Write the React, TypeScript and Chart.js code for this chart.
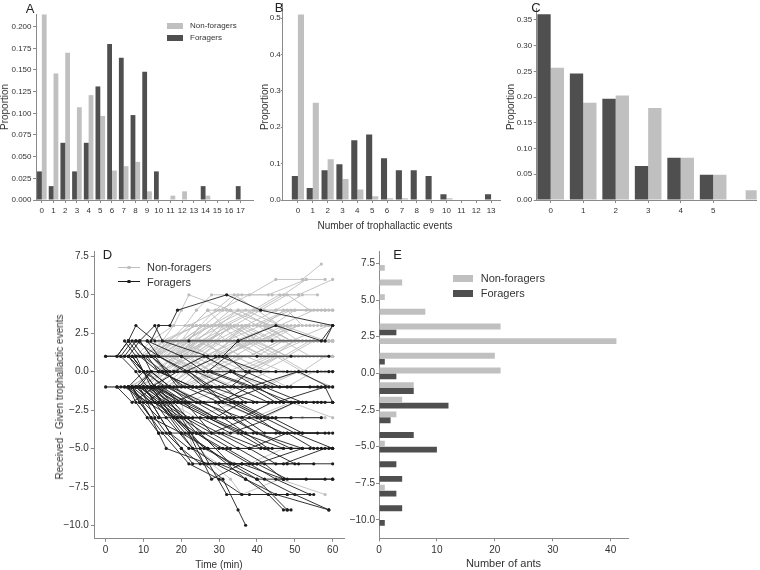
import React, { useEffect, useRef } from 'react';
import { Chart, registerables } from 'chart.js';
Chart.register(...registerables);

const FONT = '"Liberation Sans", Arial, Helvetica, sans-serif';
const LIGHT = '#c0c0c0';
const DARK = '#4f4f4f';
const AXIS = '#8a8a8a';
const TXT = '#333333';
const LINE_GRAY = '#bdbdbd';
const LINE_BLACK = '#1c1c1c';

// ---------- Panel A : given events ----------
const eventsA = [0, 1, 2, 3, 4, 5, 6, 7, 8, 9, 10, 11, 12, 13, 14, 15, 16, 17];
const foragersA = [0.033, 0.016, 0.066, 0.033, 0.066, 0.131, 0.18, 0.164, 0.098, 0.148, 0.033, 0, 0, 0, 0.016, 0, 0, 0.016];
const nonForagersA = [0.214, 0.146, 0.17, 0.107, 0.121, 0.097, 0.034, 0.039, 0.044, 0.01, 0, 0.005, 0.01, 0, 0.005, 0, 0, 0];
const yTicksA = [0, 0.025, 0.05, 0.075, 0.1, 0.125, 0.15, 0.175, 0.2];

// ---------- Panel B : received events ----------
const eventsB = [0, 1, 2, 3, 4, 5, 6, 7, 8, 9, 10, 11, 12, 13];
const foragersB = [0.066, 0.033, 0.082, 0.098, 0.164, 0.18, 0.115, 0.082, 0.082, 0.066, 0.016, 0, 0, 0.016];
const nonForagersB = [0.51, 0.267, 0.112, 0.058, 0.029, 0.01, 0.005, 0.005, 0, 0, 0.005, 0, 0, 0];
const yTicksB = [0, 0.1, 0.2, 0.3, 0.4, 0.5];

// ---------- Panel C ----------
const eventsC = [0, 1, 2, 3, 4, 5, 6];
const xTickLabelsC = [0, 1, 2, 3, 4, 5];
const foragersC = [0.361, 0.246, 0.197, 0.066, 0.082, 0.049, null];
const nonForagersC = [0.257, 0.189, 0.203, 0.179, 0.082, 0.049, 0.019];
const yTicksC = [0, 0.05, 0.1, 0.15, 0.2, 0.25, 0.3, 0.35];

// ---------- Panel D : trajectories [t, v, t, v, ...] ----------
const foragerTrajectories: number[][] = [
  [12, 2, 14, 3, 17, 3, 19, 4, 32, 5, 41, 4, 60, 3],
  [0, 1, 3, 1, 6, 2, 8, 3, 13, 2, 22, 2, 35, 2, 45, 3, 57, 2, 60, 3],
  [6, 1, 9, 2, 13, 3, 15, 2, 27, 1, 31, 1, 35, 2, 44, 2, 58, 2, 60, 3],
  [5, 1, 8, 2, 11, 2, 20, 1, 29, 1, 40, 1, 49, 1, 59, 1],
  [7, 1, 10, 0, 18, 0, 26, 1, 34, 0, 45, 0, 60, 0],
  [9, -1, 12, 0, 21, 0, 30, 1, 41, 0, 53, 0, 59, 0],
  [4, 1, 7, 2, 10, 1, 15, 0, 24, 0, 33, -1, 38, 0, 48, 0, 56, 0],
  [0, 1, 6, 1, 9, 0, 14, 0, 23, -1, 36, -1, 49, -1, 60, -1],
  [3, -1, 8, -1, 12, 0, 18, 0, 27, 0, 38, -1, 51, 0, 59, -1],
  [5, -1, 11, -2, 16, -1, 25, -1, 33, 0, 44, -1, 58, -1],
  [10, 1, 13, 1, 16, 0, 20, -1, 30, -1, 42, -1, 54, -1],
  [8, 1, 11, 1, 14, 0, 27, 0, 32, 1, 37, 0, 46, -1, 56, -1],
  [0, -1, 3, -1, 7, -2, 13, -1, 22, -2, 34, -2, 46, -2, 53, -2],
  [6, -1, 9, -2, 18, -2, 28, -1, 40, -2, 51, -2, 60, -2],
  [5, 2, 8, 1, 12, 1, 16, 0, 19, -1, 26, -1, 31, -2, 42, -1, 52, -2],
  [7, -1, 11, -1, 15, -2, 21, -2, 29, -3, 36, -2, 47, -2, 57, -2],
  [4, 1, 8, 0, 11, -1, 18, -1, 24, -2, 33, -2, 41, -3, 50, -2],
  [10, -1, 17, -1, 23, -1, 31, -1, 37, -2, 45, -2, 58, -1, 60, -2],
  [12, -1, 17, -2, 25, -2, 36, -3, 44, -2, 53, -2],
  [9, 2, 12, 1, 20, 1, 26, 0, 33, 0, 40, -1, 47, -2, 52, -2],
  [6, -1, 10, 0, 15, 0, 21, -1, 30, -2, 38, -1, 45, -2, 55, -2],
  [7, -1, 10, -2, 14, -3, 23, -3, 32, -3, 45, -3, 57, -3],
  [11, 2, 14, 1, 21, 0, 26, -1, 35, -2, 43, -3, 49, -3],
  [6, -1, 8, -2, 11, -3, 14, -4, 17, -4, 24, -4, 39, -4, 51, -4, 59, -4],
  [8, -1, 13, -2, 18, -3, 25, -3, 33, -4, 44, -3, 52, -4, 60, -4],
  [10, 1, 12, 0, 17, -1, 22, -2, 29, -3, 36, -3, 42, -4, 48, -4],
  [5, -1, 9, -1, 15, -2, 21, -3, 28, -4, 38, -3, 47, -4, 56, -4],
  [8, 2, 14, 1, 22, 0, 27, -1, 31, -2, 40, -3, 46, -4, 52, -4],
  [7, -1, 9, -2, 12, -3, 14, -4, 16, -5, 27, -6, 40, -6, 52, -5, 60, -5],
  [9, -1, 14, -2, 20, -3, 26, -4, 33, -5, 44, -5, 56, -5],
  [11, -1, 15, -1, 19, -2, 29, -2, 34, -3, 40, -4, 49, -5, 59, -5],
  [6, 1, 10, 0, 13, -1, 20, -2, 28, -3, 37, -4, 43, -5, 54, -5],
  [12, -1, 18, -3, 24, -4, 30, -5, 38, -5, 48, -4, 55, -5],
  [3, 1, 6, 2, 9, 1, 14, 0, 23, -1, 34, -2, 42, -3, 50, -4, 60, -5],
  [7, -1, 12, -2, 17, -4, 22, -5, 32, -5, 39, -6, 47, -6, 58, -5],
  [9, -1, 13, -3, 16, -4, 20, -5, 25, -6, 36, -6, 48, -6, 60, -6],
  [10, -1, 16, -2, 22, -3, 30, -4, 38, -5, 45, -6, 51, -6],
  [8, 1, 12, -1, 19, -2, 27, -3, 35, -4, 42, -5, 50, -6, 55, -6],
  [12, -1, 18, -3, 22, -4, 28, -7, 36, -6, 47, -7, 58, -7],
  [8, -1, 12, -2, 17, -4, 20, -5, 23, -6, 30, -6, 40, -7, 47, -7, 60, -7],
  [11, 0, 15, -1, 21, -2, 28, -4, 35, -5, 42, -6, 47, -7, 53, -7],
  [14, -1, 20, -3, 25, -5, 32, -8, 38, -8, 48, -8, 55, -8],
  [9, -2, 15, -4, 22, -6, 30, -7, 36, -8, 48, -8],
  [13, -1, 18, -2, 25, -4, 33, -6, 40, -7, 48, -9, 49, -9],
  [10, -1, 16, -3, 23, -5, 29, -6, 37, -7, 45, -8, 59, -9],
  [14, -2, 20, -4, 26, -6, 31, -7, 35, -9, 37, -10],
  [4, -1, 7, -1, 12, -1, 19, 0, 28, 0, 39, -1, 48, -1, 57, -1],
  [5, 1, 7, 1, 10, 0, 13, -1, 24, -1, 34, -1, 43, -2, 51, -2, 58, -2],
  [6, 2, 9, 2, 12, 1, 17, 0, 22, 0, 28, -1, 39, -1, 49, -2, 60, -2],
  [8, -1, 14, -1, 20, -2, 30, -2, 39, -2, 49, -2, 56, -2],
  [7, 1, 10, 0, 16, -1, 24, -2, 31, -3, 37, -4, 45, -4, 58, -4],
  [10, -1, 13, -2, 19, -3, 27, -3, 36, -4, 47, -5, 57, -5],
  [6, -1, 11, -2, 18, -3, 23, -4, 31, -4, 41, -5, 49, -5],
  [12, 0, 17, -1, 26, -2, 33, -3, 40, -4, 52, -5, 60, -5],
  [9, -1, 14, -2, 21, -4, 27, -5, 33, -6, 40, -6, 48, -7, 60, -7],
  [11, -1, 17, -2, 24, -4, 31, -5, 38, -6, 45, -7, 54, -8],
  [7, -1, 12, -3, 20, -4, 27, -5, 37, -7, 43, -8, 47, -9, 48, -9],
  [13, -1, 19, -3, 26, -5, 34, -6, 42, -7, 50, -8, 59, -9],
];

const nonForagerTrajectories: number[][] = [
  [14, 1, 18, 2, 22, 3, 30, 4, 38, 5, 45, 6, 52, 6, 57, 7],
  [12, 1, 17, 2, 21, 3, 24, 4, 28, 5, 36, 5, 43, 5, 53, 6, 58, 6],
  [16, 1, 20, 2, 26, 3, 31, 4, 35, 5, 44, 5, 51, 5, 60, 6],
  [10, 1, 15, 2, 18, 3, 20, 4, 22, 5, 33, 4, 45, 4, 52, 5, 56, 5],
  [13, 1, 16, 2, 24, 3, 30, 3, 35, 4, 42, 4, 53, 4, 60, 4],
  [11, -1, 15, 0, 19, 1, 24, 2, 29, 3, 37, 4, 46, 3, 55, 4, 59, 4],
  [17, 1, 22, 2, 25, 3, 34, 3, 41, 4, 48, 5, 54, 4, 58, 4],
  [8, 1, 12, 2, 18, 3, 23, 3, 27, 4, 32, 4, 44, 3, 50, 4, 56, 4],
  [9, 1, 14, 2, 20, 2, 26, 3, 36, 3, 45, 3, 60, 3],
  [15, 1, 19, 1, 23, 2, 32, 2, 38, 3, 47, 3, 57, 3],
  [12, -1, 16, 0, 21, 1, 27, 2, 34, 3, 40, 2, 51, 3, 60, 3],
  [18, 1, 21, 2, 28, 3, 35, 4, 43, 3, 54, 3],
  [7, 1, 13, 1, 18, 2, 25, 2, 33, 3, 42, 3, 49, 2, 59, 3],
  [20, 1, 24, 2, 29, 3, 39, 3, 48, 4, 52, 3, 58, 3],
  [11, 1, 16, 1, 22, 2, 31, 2, 37, 3, 50, 3, 55, 3],
  [13, 1, 17, 2, 25, 2, 33, 2, 42, 2, 52, 2, 60, 2],
  [10, -1, 14, 0, 18, 1, 26, 1, 35, 2, 46, 2, 57, 2],
  [16, 1, 21, 2, 27, 3, 36, 3, 44, 2, 53, 2, 59, 2],
  [19, 1, 23, 1, 30, 2, 39, 2, 48, 1, 55, 2],
  [8, 1, 15, 1, 24, 0, 31, 1, 40, 2, 50, 2, 60, 2],
  [14, -1, 17, 0, 22, 1, 29, 1, 37, 2, 47, 2, 58, 2],
  [12, 1, 20, 1, 27, 2, 32, 2, 41, 3, 49, 2, 56, 2],
  [22, 1, 26, 2, 34, 2, 45, 3, 51, 2, 60, 2],
  [17, 1, 25, 1, 30, 1, 38, 1, 46, 2, 54, 2, 59, 2],
  [9, 1, 19, 2, 28, 2, 36, 1, 43, 1, 52, 2, 58, 2],
  [15, -1, 20, 0, 27, 1, 33, 2, 42, 1, 50, 2, 60, 2],
  [11, 1, 18, 1, 23, 2, 31, 3, 40, 3, 47, 2, 55, 2],
  [14, 1, 21, 1, 30, 1, 39, 0, 46, 1, 55, 1, 60, 1],
  [10, -1, 16, -1, 22, 0, 32, 0, 43, 1, 51, 1, 58, 1],
  [18, 1, 24, 2, 33, 1, 41, 1, 50, 1, 57, 1],
  [13, 1, 17, 0, 26, 0, 35, 1, 44, 1, 53, 1, 60, 1],
  [20, -1, 25, 0, 31, 1, 40, 2, 48, 1, 56, 1],
  [7, -1, 12, 0, 19, 1, 28, 1, 37, 0, 45, 1, 59, 1],
  [23, 1, 29, 1, 38, 2, 46, 1, 52, 1, 60, 1],
  [12, -1, 18, 0, 27, 0, 36, 0, 45, 0, 54, 0, 60, 0],
  [9, 1, 16, 0, 24, 0, 30, -1, 39, 0, 50, 0, 58, 0],
  [15, 1, 22, 1, 28, 0, 37, 1, 47, 0, 57, 0],
  [11, -1, 21, -1, 29, 0, 38, 0, 49, 0, 60, 0],
  [19, -1, 24, -1, 33, 0, 42, -1, 51, 0, 59, 0],
  [16, 1, 26, 1, 34, 1, 43, 0, 52, 0, 60, 0],
  [0, -1, 6, -1, 14, 0, 23, 1, 32, 0, 41, 0, 56, 0],
  [10, -1, 18, -1, 26, -2, 35, -1, 46, -1, 55, -1],
  [14, 1, 20, 0, 29, -1, 38, -1, 48, -1, 59, -1],
  [8, -1, 13, -2, 22, -2, 31, -1, 43, -1, 60, -1],
  [12, -1, 17, -2, 24, -3, 34, -2, 44, -2, 52, -2],
  [16, -1, 25, -2, 33, -2, 42, -3, 50, -2, 57, -2],
  [11, -1, 19, -2, 27, -3, 39, -3, 49, -2, 60, -3],
  [14, -1, 20, -2, 23, -5, 30, -6, 38, -6, 47, -5],
  [15, -2, 22, -4, 28, -6, 33, -7, 36, -8, 46, -7, 58, -8],
  [18, 1, 22, 2, 25, 3, 29, 4, 34, 5, 40, 4, 47, 5, 53, 6],
  [15, 1, 20, 2, 23, 3, 27, 4, 31, 3, 39, 4, 46, 5, 51, 5],
  [19, 1, 23, 2, 27, 3, 32, 2, 37, 3, 45, 4, 50, 4, 60, 4],
  [10, 1, 16, 2, 21, 2, 28, 3, 33, 4, 40, 3, 49, 4, 57, 4],
  [21, 1, 24, 2, 28, 2, 31, 3, 42, 3, 47, 4, 58, 4],
  [13, 1, 19, 2, 26, 2, 30, 3, 36, 2, 44, 3, 53, 3],
  [17, -1, 21, 0, 25, 1, 30, 2, 38, 2, 43, 3, 56, 3],
  [9, 1, 12, 1, 17, 2, 29, 2, 33, 3, 41, 2, 48, 3, 60, 3],
  [22, 1, 27, 2, 32, 3, 40, 4, 46, 3, 59, 3],
  [14, 1, 23, 1, 28, 2, 37, 2, 43, 2, 51, 3, 57, 3],
  [16, 1, 20, 1, 26, 2, 35, 3, 42, 2, 49, 3, 54, 3],
  [11, 1, 14, 1, 20, 2, 28, 1, 36, 2, 45, 2, 51, 2],
  [18, -1, 23, 0, 28, 1, 34, 1, 41, 2, 48, 2, 60, 2],
  [13, 1, 21, 2, 26, 2, 31, 1, 39, 2, 44, 2, 56, 2],
  [20, 1, 28, 1, 33, 2, 40, 1, 47, 2, 53, 2, 59, 2],
  [12, 1, 15, 2, 24, 3, 32, 3, 39, 2, 47, 3, 58, 2],
  [17, 1, 22, 1, 29, 2, 37, 3, 45, 2, 52, 2, 60, 2],
  [25, 1, 31, 2, 37, 2, 44, 1, 50, 2, 57, 2],
  [9, -1, 15, 0, 21, 1, 30, 1, 38, 1, 46, 2, 55, 2],
  [14, 1, 18, 1, 27, 2, 34, 3, 42, 3, 49, 2, 59, 2],
  [19, 1, 26, 1, 35, 1, 41, 1, 47, 1, 54, 2, 60, 2],
  [16, -1, 22, 0, 29, 0, 36, 1, 45, 1, 52, 0, 58, 1],
  [12, 1, 19, 1, 25, 2, 34, 2, 42, 1, 51, 1, 57, 1],
  [21, 1, 28, 0, 35, 0, 44, 1, 50, 1, 60, 1],
  [15, 1, 24, 1, 32, 1, 38, 2, 47, 2, 54, 1],
  [8, -1, 17, 0, 26, 1, 33, 0, 41, 0, 49, 1, 59, 1],
  [18, 1, 25, 0, 31, 0, 40, 0, 48, -1, 55, 0, 60, 0],
  [13, -1, 20, -1, 28, 0, 37, 0, 46, 1, 53, 0, 58, 0],
  [22, -1, 30, 0, 39, 0, 47, 0, 57, 0],
  [10, 1, 17, 1, 25, 0, 34, -1, 43, 0, 52, 0, 60, 0],
  [17, 1, 24, 0, 30, -1, 41, -1, 50, 0, 60, -1],
  [13, -1, 21, -2, 30, -2, 40, -3, 52, -3, 58, -3],
];
const xTicksD = [0, 10, 20, 30, 40, 50, 60];
const yTicksDE = [-10, -7.5, -5, -2.5, 0, 2.5, 5, 7.5];

// ---------- Panel E : final balance histogram ----------
const balanceBins = [7, 6, 5, 4, 3, 2, 1, 0, -1, -2, -3, -4, -5, -6, -7, -8, -9, -10];
const nonForagersE = [1, 4, 1, 8, 21, 41, 20, 21, 6, 4, 3, 0, 1, 0, 0, 1, 0, 0];
const foragersE = [0, 0, 0, 0, 3, 0, 1, 3, 6, 12, 2, 6, 10, 3, 4, 3, 4, 1];
const xTicksE = [0, 10, 20, 30, 40];

// ---------- helpers ----------
type Box = { left: number; top: number; width: number; height: number };
type Plot = { l: number; t: number; r: number; b: number };

const minusFmt = (d: number) => (v: number) => (v < 0 ? '\u2212' : '') + Math.abs(v).toFixed(d);

function linearScale(
  pos: 'bottom' | 'left',
  min: number,
  max: number,
  ticks: number[],
  fmt: (v: number) => string,
  size: number,
  fontSize: number,
  tl: number,
  pad: number
) {
  return {
    type: 'linear',
    position: pos,
    min,
    max,
    offset: false,
    afterBuildTicks: (s: any) => {
      s.ticks = ticks.map((v) => ({ value: v }));
    },
    afterFit: (s: any) => {
      if (pos === 'bottom') s.height = size;
      else s.width = size;
      s.paddingLeft = 0;
      s.paddingRight = 0;
      s.paddingTop = 0;
      s.paddingBottom = 0;
    },
    grid: {
      display: true,
      offset: false,
      drawOnChartArea: false,
      drawTicks: true,
      tickLength: tl,
      tickColor: AXIS,
      tickWidth: 1,
      color: AXIS,
    },
    border: { display: true, color: AXIS, width: 1 },
    ticks: {
      autoSkip: false,
      maxRotation: 0,
      minRotation: 0,
      padding: pad,
      color: TXT,
      font: { family: FONT, size: fontSize },
      callback: (v: any) => fmt(Number(v)),
    },
  };
}

function baseOptions(box: Box, plot: Plot) {
  return {
    animation: false,
    responsive: false,
    events: [],
    layout: {
      autoPadding: false,
      padding: {
        left: 0,
        top: plot.t - box.top,
        right: box.left + box.width - plot.r,
        bottom: 0,
      },
    },
    plugins: { legend: { display: false }, tooltip: { enabled: false } },
  };
}

function barPanelConfig(
  box: Box,
  plot: Plot,
  cats: number[],
  dark: (number | null)[],
  light: (number | null)[],
  xMin: number,
  xMax: number,
  xTicks: number[],
  yMax: number,
  yTicks: number[],
  yDec: number,
  yTl: number,
  yPad: number
) {
  return {
    type: 'bar',
    data: {
      datasets: [
        {
          label: 'Foragers',
          data: cats.map((c, i) => ({ x: c, y: dark[i] })),
          backgroundColor: DARK,
          borderWidth: 0,
          categoryPercentage: 0.82,
          barPercentage: 1,
          clip: 0,
        },
        {
          label: 'Non-foragers',
          data: cats.map((c, i) => ({ x: c, y: light[i] })),
          backgroundColor: LIGHT,
          borderWidth: 0,
          categoryPercentage: 0.82,
          barPercentage: 1,
          clip: 0,
        },
      ],
    },
    options: {
      ...baseOptions(box, plot),
      scales: {
        x: linearScale('bottom', xMin, xMax, xTicks, (v) => String(v), box.top + box.height - plot.b, 8, 3, 3),
        y: linearScale('left', 0, yMax, yTicks, (v) => v.toFixed(yDec), plot.l - box.left, 8, yTl, yPad),
      },
    },
  };
}

function toPoints(arr: number[]) {
  const pts: { x: number; y: number }[] = [];
  for (let i = 0; i < arr.length; i += 2) pts.push({ x: arr[i], y: arr[i + 1] });
  return pts;
}

function lineDataset(arr: number[], color: string) {
  return {
    data: toPoints(arr),
    showLine: true,
    borderColor: color,
    backgroundColor: color,
    borderWidth: 0.9,
    pointRadius: 1.6,
    pointBorderWidth: 0,
    pointBackgroundColor: color,
  };
}

function ChartCanvas({ box, build }: { box: Box; build: () => any }) {
  const ref = useRef<HTMLCanvasElement | null>(null);
  useEffect(() => {
    if (!ref.current) return;
    const chart = new Chart(ref.current, build());
    return () => chart.destroy();
  }, []);
  return (
    <canvas
      ref={ref}
      width={box.width}
      height={box.height}
      style={{ position: 'absolute', left: box.left, top: box.top, width: box.width, height: box.height }}
    />
  );
}

function Label({
  x,
  y,
  size,
  text,
  rotate,
  anchor,
  color,
}: {
  x: number;
  y: number;
  size: number;
  text: string;
  rotate?: boolean;
  anchor?: 'left' | 'center';
  color?: string;
}) {
  const tx = anchor === 'left' ? '0' : '-50%';
  return (
    <div
      style={{
        position: 'absolute',
        left: x,
        top: y,
        transform: `translate(${tx}, -50%)${rotate ? ' rotate(-90deg)' : ''}`,
        transformOrigin: rotate ? '50% 50%' : undefined,
        fontFamily: FONT,
        fontSize: size,
        lineHeight: 1,
        whiteSpace: 'nowrap',
        color: color || TXT,
      }}
    >
      {text}
    </div>
  );
}

function Rect({ x, y, w, h, c }: { x: number; y: number; w: number; h: number; c: string }) {
  return <div style={{ position: 'absolute', left: x, top: y, width: w, height: h, background: c }} />;
}

// ---------- layout ----------
const boxA: Box = { left: 0, top: 0, width: 258, height: 222 };
const plotA: Plot = { l: 36, t: 14, r: 253, b: 200 };
const boxB: Box = { left: 240, top: 0, width: 265, height: 222 };
const plotB: Plot = { l: 282.3, t: 3.3, r: 500, b: 200 };
const boxC: Box = { left: 500, top: 0, width: 260, height: 222 };
const plotC: Plot = { l: 536.7, t: 8.3, r: 756.7, b: 200 };
const boxD: Box = { left: 50, top: 240, width: 300, height: 330 };
const plotD: Plot = { l: 94.3, t: 251, r: 344, b: 538.3 };
const boxE: Box = { left: 340, top: 240, width: 300, height: 330 };
const plotE: Plot = { l: 379, t: 251.7, r: 628.3, b: 538.3 };

function buildD() {
  const datasets = [
    ...foragerTrajectories.map((t) => lineDataset(t, LINE_BLACK)),
    ...nonForagerTrajectories.map((t) => lineDataset(t, LINE_GRAY)),
  ];
  return {
    type: 'scatter',
    data: { datasets },
    options: {
      ...baseOptions(boxD, plotD),
      scales: {
        x: linearScale('bottom', -3, 63, xTicksD, (v) => String(v), boxD.top + boxD.height - plotD.b, 10, 3.5, 2.5),
        y: linearScale('left', -10.85, 7.85, yTicksDE, minusFmt(1), plotD.l - boxD.left, 10, 3.5, 2),
      },
    },
  };
}

function buildE() {
  return {
    type: 'bar',
    data: {
      datasets: [
        {
          label: 'Non-foragers',
          data: balanceBins.map((b, i) => ({ x: nonForagersE[i], y: b })),
          backgroundColor: LIGHT,
          borderWidth: 0,
          categoryPercentage: 0.8,
          barPercentage: 1,
        },
        {
          label: 'Foragers',
          data: balanceBins.map((b, i) => ({ x: foragersE[i], y: b })),
          backgroundColor: DARK,
          borderWidth: 0,
          categoryPercentage: 0.8,
          barPercentage: 1,
        },
      ],
    },
    options: {
      ...baseOptions(boxE, plotE),
      indexAxis: 'y',
      scales: {
        x: linearScale('bottom', 0, 43.05, xTicksE, (v) => String(v), boxE.top + boxE.height - plotE.b, 10, 3, 2.5),
        y: linearScale('left', -11.25, 8.3, yTicksDE, minusFmt(1), plotE.l - boxE.left, 10, 3, 1),
      },
    },
  };
}

export default function App() {
  return (
    <div style={{ position: 'absolute', left: 0, top: 0, width: 760, height: 570, background: '#fff', overflow: 'hidden' }}>
      <ChartCanvas
        box={boxA}
        build={() =>
          barPanelConfig(boxA, plotA, eventsA, foragersA, nonForagersA, -0.5, 18.06, eventsA, 0.2146, yTicksA, 3, 3, 1.5)
        }
      />
      <ChartCanvas
        box={boxB}
        build={() =>
          barPanelConfig(boxB, plotB, eventsB, foragersB, nonForagersB, -1.05, 13.6, eventsB, 0.5405, yTicksB, 1, 1.5, 0)
        }
      />
      <ChartCanvas
        box={boxC}
        build={() =>
          barPanelConfig(boxC, plotC, eventsC, foragersC, nonForagersC, -0.43, 6.34, xTickLabelsC, 0.3727, yTicksC, 2, 3, 1.5)
        }
      />
      <ChartCanvas box={boxD} build={buildD} />
      <ChartCanvas box={boxE} build={buildE} />

      {/* panel letters */}
      <Label x={30} y={8} size={13} text="A" color="#222" />
      <Label x={279} y={6.5} size={13} text="B" color="#222" />
      <Label x={536} y={7} size={13} text="C" color="#222" />
      <Label x={107.5} y={254} size={13} text="D" color="#222" />
      <Label x={397.5} y={253.5} size={13} text="E" color="#222" />

      {/* axis titles */}
      <Label x={5} y={107} size={10} text="Proportion" rotate />
      <Label x={265} y={107} size={10} text="Proportion" rotate />
      <Label x={511} y={107} size={10} text="Proportion" rotate />
      <Label x={385} y={226} size={10} text="Number of trophallactic events" />
      <Label x={60} y={397} size={10} text="Received - Given trophallactic events" rotate />
      <Label x={219} y={565} size={10} text="Time (min)" />
      <Label x={503.5} y={563} size={11} text="Number of ants" />

      {/* legend A */}
      <Rect x={167} y={22.7} w={16} h={6} c={LIGHT} />
      <Label x={190} y={25.7} size={8} text="Non-foragers" anchor="left" />
      <Rect x={167} y={35} w={16} h={6} c={DARK} />
      <Label x={190} y={37.7} size={8} text="Foragers" anchor="left" />

      {/* legend D */}
      <Rect x={118} y={266.8} w={22} h={1} c={LINE_GRAY} />
      <div style={{ position: 'absolute', left: 127.4, top: 265.7, width: 3.2, height: 3.2, borderRadius: '50%', background: LINE_GRAY }} />
      <Label x={147} y={267.3} size={11} text="Non-foragers" anchor="left" />
      <Rect x={118} y={281.2} w={22} h={1} c={LINE_BLACK} />
      <div style={{ position: 'absolute', left: 127.4, top: 280.1, width: 3.2, height: 3.2, borderRadius: '50%', background: LINE_BLACK }} />
      <Label x={147} y={281.7} size={11} text="Foragers" anchor="left" />

      {/* legend E */}
      <Rect x={453} y={275} w={20} h={6.5} c={LIGHT} />
      <Label x={480.7} y={278.3} size={11} text="Non-foragers" anchor="left" />
      <Rect x={453} y={290} w={20} h={6.5} c={DARK} />
      <Label x={480.7} y={293} size={11} text="Foragers" anchor="left" />
    </div>
  );
}
